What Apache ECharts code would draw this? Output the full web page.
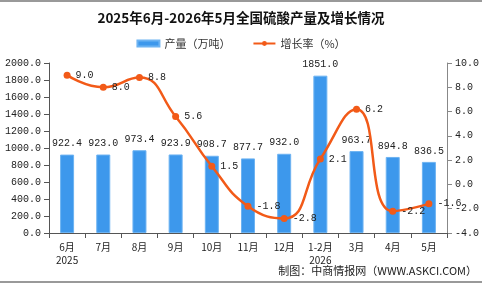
<!DOCTYPE html>
<html>
<head>
<meta charset="utf-8">
<style>
  html, body { margin: 0; padding: 0; background: #fff; }
  #chart { width: 482px; height: 284px; }
</style>
<script src="https://cdn.jsdelivr.net/npm/echarts@6/dist/echarts.min.js"></script>
</head>
<body>
<div id="chart"></div>
<script>
// 月份
const months = ['6月\n2025', '7月', '8月', '9月', '10月', '11月', '12月', '1-2月\n2026', '3月', '4月', '5月'];
// 产量（万吨）
const output = [922.4, 923.0, 973.4, 923.9, 908.7, 877.7, 932.0, 1851.0, 963.7, 894.8, 836.5];
// 增长率（%）
const growth = [9.0, 8.0, 8.8, 5.6, 1.5, -1.8, -2.8, 2.1, 6.2, -2.2, -1.6];

const monoFont = '"Liberation Mono", "DejaVu Sans Mono", monospace';
const cjkFont = '"Noto Sans CJK SC", sans-serif';

const chart = echarts.init(document.getElementById('chart'));
chart.setOption({
    animation: false,
    title: {
        text: '2025年6月-2026年5月全国硫酸产量及增长情况',
        left: 'center',
        top: 6,
        textStyle: { fontSize: 13.5, fontWeight: 'bold', color: '#111', fontFamily: cjkFont }
    },
    legend: {
        top: 33,
        left: 'center',
        itemGap: 22,
        itemWidth: 22,
        itemHeight: 6,
        textStyle: { fontSize: 11, color: '#333', fontFamily: cjkFont },
        data: [
            { name: '产量（万吨）', icon: 'rect' },
            { name: '增长率（%）' }
        ]
    },
    grid: { left: 49, right: 29, top: 63, bottom: 51 },
    xAxis: {
        type: 'category',
        data: months,
        axisLine: { lineStyle: { color: '#555' } },
        axisTick: { show: true, lineStyle: { color: '#555' } },
        axisLabel: { color: '#222', fontSize: 10, fontFamily: cjkFont, lineHeight: 13, margin: 8, interval: 0 }
    },
    yAxis: [
        {
            type: 'value',
            min: 0, max: 2000, interval: 200,
            splitLine: { show: false },
            axisLine: { show: true, lineStyle: { color: '#555' } },
            axisTick: { show: true, lineStyle: { color: '#555' } },
            axisLabel: { color: '#222', fontSize: 10, fontFamily: monoFont, formatter: v => v.toFixed(1) }
        },
        {
            type: 'value',
            min: -4, max: 10, interval: 2,
            splitLine: { show: false },
            axisLine: { show: true, lineStyle: { color: '#888' } },
            axisTick: { show: true, lineStyle: { color: '#888' } },
            axisLabel: { color: '#222', fontSize: 10, fontFamily: monoFont, formatter: v => v.toFixed(1) }
        }
    ],
    series: [
        {
            name: '产量（万吨）',
            type: 'bar',
            data: output,
            barWidth: 14,
            itemStyle: { color: '#3d98ec', borderColor: '#6db3f2', borderWidth: 1 },
            label: {
                show: true, position: 'top', distance: 6,
                color: '#222', fontSize: 10, fontFamily: monoFont,
                formatter: p => p.value.toFixed(1)
            }
        },
        {
            name: '增长率（%）',
            type: 'line',
            yAxisIndex: 1,
            data: growth,
            smooth: true,
            symbol: 'circle',
            symbolSize: 7,
            itemStyle: { color: '#f25a18' },
            lineStyle: { color: '#f25a18', width: 2.5 },
            label: {
                show: true, position: 'right', distance: 5,
                color: '#222', fontSize: 10, fontFamily: monoFont,
                formatter: p => p.value.toFixed(1)
            }
        }
    ],
    graphic: [
        {
            type: 'text',
            right: 5,
            bottom: 8,
            style: { text: '制图：中商情报网（WWW.ASKCI.COM）', fontSize: 11, fill: '#222', fontFamily: cjkFont }
        },
        { type: 'rect', left: 0, top: 0, shape: { width: 482, height: 2 }, style: { fill: '#999' } },
        { type: 'rect', left: 0, top: 281, shape: { width: 482, height: 2 }, style: { fill: '#999' } }
    ]
});
</script>
</body>
</html>
